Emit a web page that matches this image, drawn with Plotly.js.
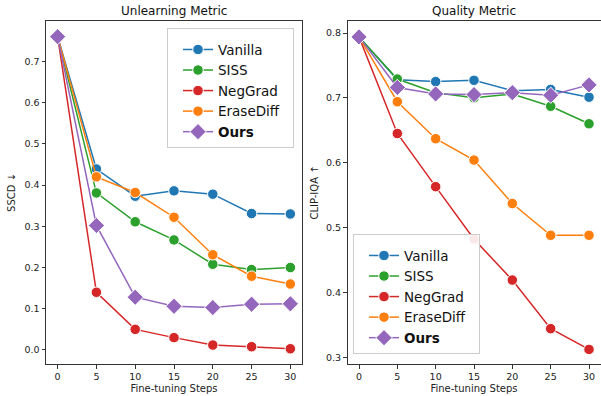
<!DOCTYPE html>
<html>
<head>
<meta charset="utf-8">
<script src="https://cdn.plot.ly/plotly-3.0.1.min.js"></script>
<style>html,body{margin:0;padding:0;background:#fff;}#chart{width:601px;height:396px;}</style>
</head>
<body>
<div id="chart"></div>
<script>
const steps = [0, 5, 10, 15, 20, 25, 30];
const methods = ['Vanilla', 'SISS', 'NegGrad', 'EraseDiff', 'Ours'];
const colors = ['#1f77b4', '#2ca02c', '#d62728', '#ff7f0e', '#9467bd'];

// SSCD (lower is better)
const sscdVanilla   = [0.760, 0.439, 0.373, 0.386, 0.378, 0.331, 0.330];
const sscdSISS      = [0.760, 0.381, 0.311, 0.267, 0.208, 0.195, 0.200];
const sscdNegGrad   = [0.760, 0.140, 0.050, 0.030, 0.012, 0.008, 0.003];
const sscdEraseDiff = [0.760, 0.420, 0.382, 0.322, 0.231, 0.179, 0.160];
const sscdOurs      = [0.760, 0.302, 0.128, 0.106, 0.103, 0.111, 0.112];

// CLIP-IQA (higher is better)
const clipVanilla   = [0.794, 0.728, 0.725, 0.727, 0.711, 0.713, 0.701];
const clipSISS      = [0.794, 0.729, 0.708, 0.700, 0.706, 0.687, 0.660];
const clipNegGrad   = [0.794, 0.645, 0.563, 0.482, 0.419, 0.344, 0.312];
const clipEraseDiff = [0.794, 0.694, 0.637, 0.604, 0.537, 0.488, 0.488];
const clipOurs      = [0.794, 0.716, 0.706, 0.705, 0.708, 0.704, 0.720];

const sscd = [sscdVanilla, sscdSISS, sscdNegGrad, sscdEraseDiff, sscdOurs];
const clip = [clipVanilla, clipSISS, clipNegGrad, clipEraseDiff, clipOurs];

const W = 601, H = 396;
const traces = [];
function addSet(data, xa, ya, legend) {
  data.forEach((ys, i) => {
    const isOurs = methods[i] === 'Ours';
    traces.push({
      x: steps, y: ys, xaxis: xa, yaxis: ya, legend: legend,
      type: 'scatter', mode: 'lines+markers',
      name: (isOurs ? '<b>Ours</b>' : methods[i]) + '\u00a0\u00a0',
      line: {color: colors[i], width: 1.5},
      marker: {symbol: isOurs ? 'diamond' : 'circle', size: isOurs ? 12.5 : 10.5,
               color: colors[i], line: {color: '#fff', width: 1}}
    });
  });
}
addSet(sscd, 'x', 'y', 'legend');
addSet(clip, 'x2', 'y2', 'legend2');

const font = {family: 'DejaVu Sans, sans-serif', color: '#222'};
const axBase = {
  showgrid: false, zeroline: false, showline: true, mirror: true,
  linecolor: '#333', linewidth: 1, ticks: 'outside', ticklen: 3.5, tickwidth: 1,
  tickcolor: '#333', tickfont: {family: font.family, size: 9.5, color: '#222'}
};
const yDom = [(H - 364) / H, (H - 21) / H];
const legBase = {xanchor: 'left', yanchor: 'top', bgcolor: 'rgba(255,255,255,0.9)',
  bordercolor: '#ccc', borderwidth: 1, font: {family: font.family, size: 13.5, color: '#111'},
  itemwidth: 30, tracegroupgap: 0, indentation: 10,
  title: {text: ' ', font: {size: 4}}};
const layout = {
  width: W, height: H, margin: {l: 0, r: 0, t: 0, b: 0},
  paper_bgcolor: '#fff', plot_bgcolor: '#fff', font: font,
  xaxis: Object.assign({}, axBase, {domain: [46 / W, 302 / W], range: [-1.5, 31.5], tickvals: steps,
    title: {text: 'Fine-tuning Steps', font: {size: 10}, standoff: 4}}),
  yaxis: Object.assign({}, axBase, {domain: yDom, range: [-0.034, 0.798], dtick: 0.1, tickformat: '.1f',
    title: {text: 'SSCD ↓', font: {size: 10}, standoff: 6}}),
  xaxis2: Object.assign({}, axBase, {anchor: 'y2', domain: [347.5 / W, 600.5 / W], range: [-1.5, 31.5], tickvals: steps,
    title: {text: 'Fine-tuning Steps', font: {size: 10}, standoff: 4}}),
  yaxis2: Object.assign({}, axBase, {anchor: 'x2', domain: yDom, range: [0.2895, 0.8185], dtick: 0.1, tickformat: '.1f',
    title: {text: 'CLIP-IQA ↑', font: {size: 10}, standoff: 5}}),
  legend: Object.assign({}, legBase, {x: 167 / W, y: (H - 28) / H}),
  legend2: Object.assign({}, legBase, {x: 353 / W, y: (H - 234) / H}),
  annotations: [
    {text: 'Unlearning Metric', x: 174 / W, y: (H - 11) / H, xref: 'paper', yref: 'paper', showarrow: false,
     xanchor: 'center', yanchor: 'middle', font: {size: 12, color: '#111'}},
    {text: 'Quality Metric', x: 474 / W, y: (H - 11) / H, xref: 'paper', yref: 'paper', showarrow: false,
     xanchor: 'center', yanchor: 'middle', font: {size: 12, color: '#111'}}
  ],
  showlegend: true
};
Plotly.newPlot('chart', traces, layout, {displayModeBar: false, staticPlot: true});
</script>
</body>
</html>
